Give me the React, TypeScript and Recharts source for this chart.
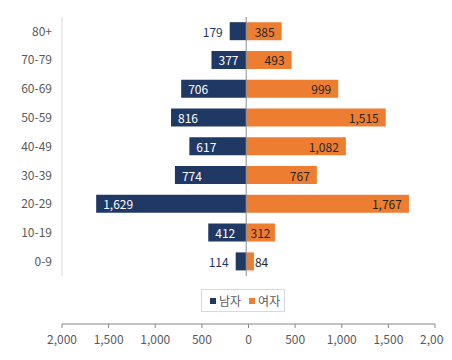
import React from 'react';
import { BarChart, Bar, XAxis, YAxis, Legend, ReferenceLine, LabelList } from 'recharts';

const ageGroups = ['80+', '70-79', '60-69', '50-59', '40-49', '30-39', '20-29', '10-19', '0-9'];
const maleValues = [179, 377, 706, 816, 617, 774, 1629, 412, 114];
const femaleValues = [385, 493, 999, 1515, 1082, 767, 1767, 312, 84];
const axisTicks = [-2000, -1500, -1000, -500, 0, 500, 1000, 1500, 2000];
const seriesNames = ['남자', '여자'];

const data = ageGroups.map((age, i) => ({ age, male: -maleValues[i], female: femaleValues[i] }));

const NAVY = '#203864';
const ORANGE = '#ED7D31';
const FONT = '"Noto Sans CJK KR", "Open Sans", sans-serif';

const fmt = (v: number) => Math.abs(v).toLocaleString('en-US');
const textWidth = (s: string) => {
  let w = 0;
  for (const c of s) w += c === ',' ? 3.2 : 6.6;
  return w;
};

function MaleLabel(props: any) {
  const { x, y, width, height, value } = props;
  const x0 = Number(x);
  const wd = Number(width);
  const left = Math.min(x0, x0 + wd);
  const w = Math.abs(wd);
  const s = fmt(Number(value));
  const tw = textWidth(s);
  const cy = Number(y) + Number(height) / 2;
  let tx: number;
  let anchor: 'start' | 'end' = 'start';
  let fill = '#ffffff';
  if (w >= tw + 14) {
    tx = left + 7;
  } else if (w >= tw + 6) {
    tx = left + (w - tw) / 2;
  } else {
    tx = left - 7;
    anchor = 'end';
    fill = NAVY;
  }
  return (
    <text x={tx} y={cy} textAnchor={anchor} dominantBaseline="central" fontSize={12} fill={fill} fontFamily={FONT}>
      {s}
    </text>
  );
}

function FemaleLabel(props: any) {
  const { x, y, width, height, value } = props;
  const x0 = Number(x);
  const wd = Number(width);
  const left = Math.min(x0, x0 + wd);
  const w = Math.abs(wd);
  const right = left + w;
  const s = fmt(Number(value));
  const tw = textWidth(s);
  const cy = Number(y) + Number(height) / 2;
  let tx: number;
  let anchor: 'start' | 'end' = 'end';
  if (w >= tw + 14) {
    tx = right - 7;
  } else if (w >= tw + 6) {
    tx = right - (w - tw) / 2;
  } else {
    tx = right + 1;
    anchor = 'start';
  }
  return (
    <text x={tx} y={cy} textAnchor={anchor} dominantBaseline="central" fontSize={12} fill="#262626" fontFamily={FONT}>
      {s}
    </text>
  );
}

const renderLegend = (props: any) => {
  const { payload } = props;
  return (
    <div
      style={{
        display: 'flex',
        width: 'max-content',
        alignItems: 'center',
        border: '1px solid #d9d9d9',
        height: 23,
        boxSizing: 'border-box',
        padding: '0 4px 0 8px',
        fontFamily: FONT,
        background: '#fff',
        lineHeight: '14px',
      }}
    >
      {(payload || []).map((entry: any, i: number) => (
        <span key={i} style={{ display: 'flex', alignItems: 'center', marginLeft: i === 0 ? 0 : 8 }}>
          <span style={{ display: 'block', width: 6, height: 6, background: entry.color, marginRight: 3 }} />
          <span style={{ fontSize: 12, color: '#595959', lineHeight: '14px' }}>{entry.value}</span>
        </span>
      ))}
    </div>
  );
};

export default function App() {
  return (
    <div style={{ width: 444, height: 344, fontFamily: FONT, background: '#fff' }}>
      <BarChart
        width={444}
        height={344}
        data={data}
        layout="vertical"
        stackOffset="sign"
        barCategoryGap="18%"
        margin={{ top: 9, right: 17, bottom: 2, left: 0 }}
        style={{ fontFamily: FONT, overflow: 'visible' }}
      >
        <XAxis
          xAxisId="a"
          type="number"
          domain={[-2000, 2050]}
          allowDataOverflow
          tick={false}
          axisLine={false}
          tickLine={false}
          height={48}
        />
        <XAxis
          xAxisId="b"
          type="number"
          domain={[-2000, 2000]}
          allowDataOverflow
          ticks={axisTicks}
          interval={0}
          tickFormatter={fmt}
          axisLine={{ stroke: '#868686' }}
          tickLine={{ stroke: '#868686' }}
          tickSize={4}
          tickMargin={7}
          height={26}
          tick={{ fontSize: 12, fill: '#595959' }}
        />
        <YAxis
          type="category"
          dataKey="age"
          width={54}
          axisLine={{ stroke: '#d9d9d9' }}
          tickLine={false}
          tickMargin={4}
          tick={{ fontSize: 12, fill: '#595959' }}
        />
        <Bar dataKey="male" name={seriesNames[0]} fill={NAVY} stackId="s" xAxisId="a" isAnimationActive={false}>
          <LabelList dataKey="male" content={MaleLabel} />
        </Bar>
        <Bar dataKey="female" name={seriesNames[1]} fill={ORANGE} stackId="s" xAxisId="a" isAnimationActive={false}>
          <LabelList dataKey="female" content={FemaleLabel} />
        </Bar>
        <ReferenceLine x={0} xAxisId="a" stroke="#8c8c8c" />
        <ReferenceLine x={0} xAxisId="b" stroke="none" strokeOpacity={0} />
        <Legend
          layout="horizontal"
          verticalAlign="middle"
          align="center"
          content={renderLegend}
          wrapperStyle={{ left: 193, top: 281, width: 'auto', lineHeight: '14px' }}
        />
      </BarChart>
    </div>
  );
}
